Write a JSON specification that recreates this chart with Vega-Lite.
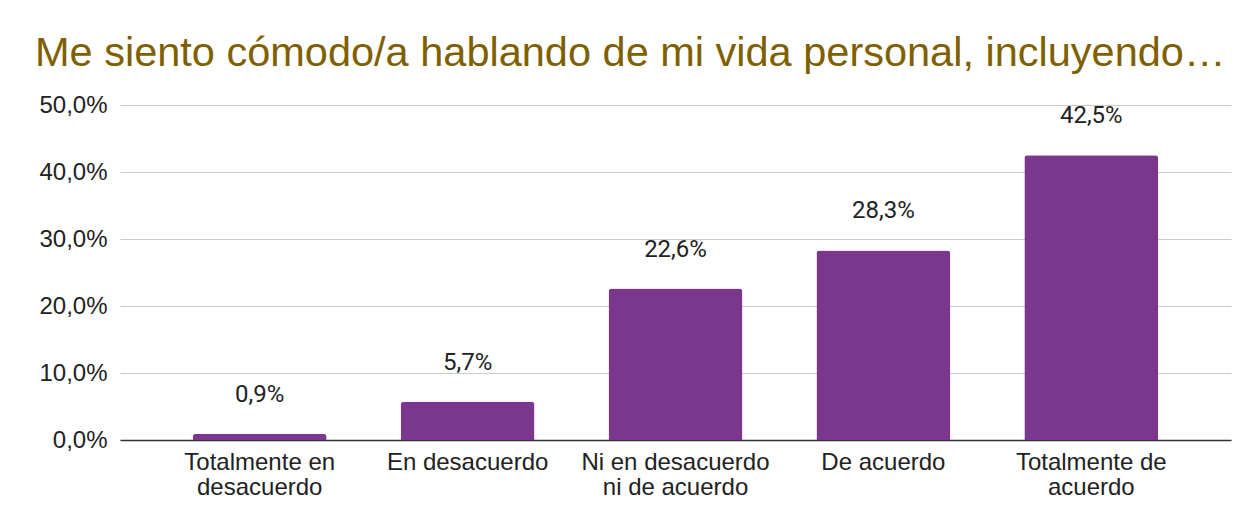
{
  "$schema": "https://vega.github.io/schema/vega-lite/v6.json",
  "width": 1111,
  "height": 335,
  "autosize": {"type": "none"},
  "padding": {"left": 120, "top": 105, "right": 26, "bottom": 85},
  "background": "white",
  "config": {
    "locale": {"number": {"decimal": ",", "thousands": ".", "grouping": [3], "currency": ["", " €"]}},
    "view": {"stroke": null}
  },
  "title": {
    "text": "Me siento cómodo/a hablando de mi vida personal, incluyendo…",
    "anchor": "start",
    "frame": "group",
    "dx": -85,
    "offset": 19,
    "font": "Liberation Sans",
    "fontSize": 41.5,
    "fontWeight": "normal",
    "color": "#7f6000"
  },
  "data": {
    "values": [
      {"categoria": "Totalmente en desacuerdo", "valor": 0.009},
      {"categoria": "En desacuerdo", "valor": 0.057},
      {"categoria": "Ni en desacuerdo ni de acuerdo", "valor": 0.226},
      {"categoria": "De acuerdo", "valor": 0.283},
      {"categoria": "Totalmente de acuerdo", "valor": 0.425}
    ]
  },
  "encoding": {
    "x": {
      "field": "categoria",
      "type": "nominal",
      "sort": null,
      "scale": {"paddingInner": 0.356, "paddingOuter": 0.35},
      "axis": {
        "title": null,
        "labelAngle": 0,
        "labelFont": "Liberation Sans",
        "labelFontSize": 24,
        "labelColor": "#222222",
        "labelPadding": 10,
        "labelLineHeight": 25,
        "labelBaseline": "top",
        "labelLimit": 300,
        "ticks": false,
        "domainColor": "#333333",
        "domainWidth": 1.5,
        "labelExpr": "datum.label == 'Totalmente en desacuerdo' ? ['Totalmente en', 'desacuerdo'] : datum.label == 'Ni en desacuerdo ni de acuerdo' ? ['Ni en desacuerdo', 'ni de acuerdo'] : datum.label == 'Totalmente de acuerdo' ? ['Totalmente de', 'acuerdo'] : datum.label"
      }
    },
    "y": {
      "field": "valor",
      "type": "quantitative",
      "scale": {"domain": [0, 0.5], "nice": false},
      "axis": {
        "title": null,
        "values": [0, 0.1, 0.2, 0.3, 0.4, 0.5],
        "format": ".1%",
        "labelFont": "Liberation Sans",
        "labelFontSize": 24,
        "labelColor": "#222222",
        "labelPadding": 13,
        "ticks": false,
        "domain": false,
        "gridColor": "#cccccc",
        "gridWidth": 1.2
      }
    }
  },
  "layer": [
    {
      "mark": {"type": "bar", "color": "#7b368e", "cornerRadiusTopLeft": 3, "cornerRadiusTopRight": 3}
    },
    {
      "mark": {"type": "text", "font": "Roboto", "fontSize": 24, "color": "#222222", "baseline": "middle", "dy": -39},
      "encoding": {
        "text": {"field": "valor", "type": "quantitative", "format": ".1%"}
      }
    }
  ]
}
